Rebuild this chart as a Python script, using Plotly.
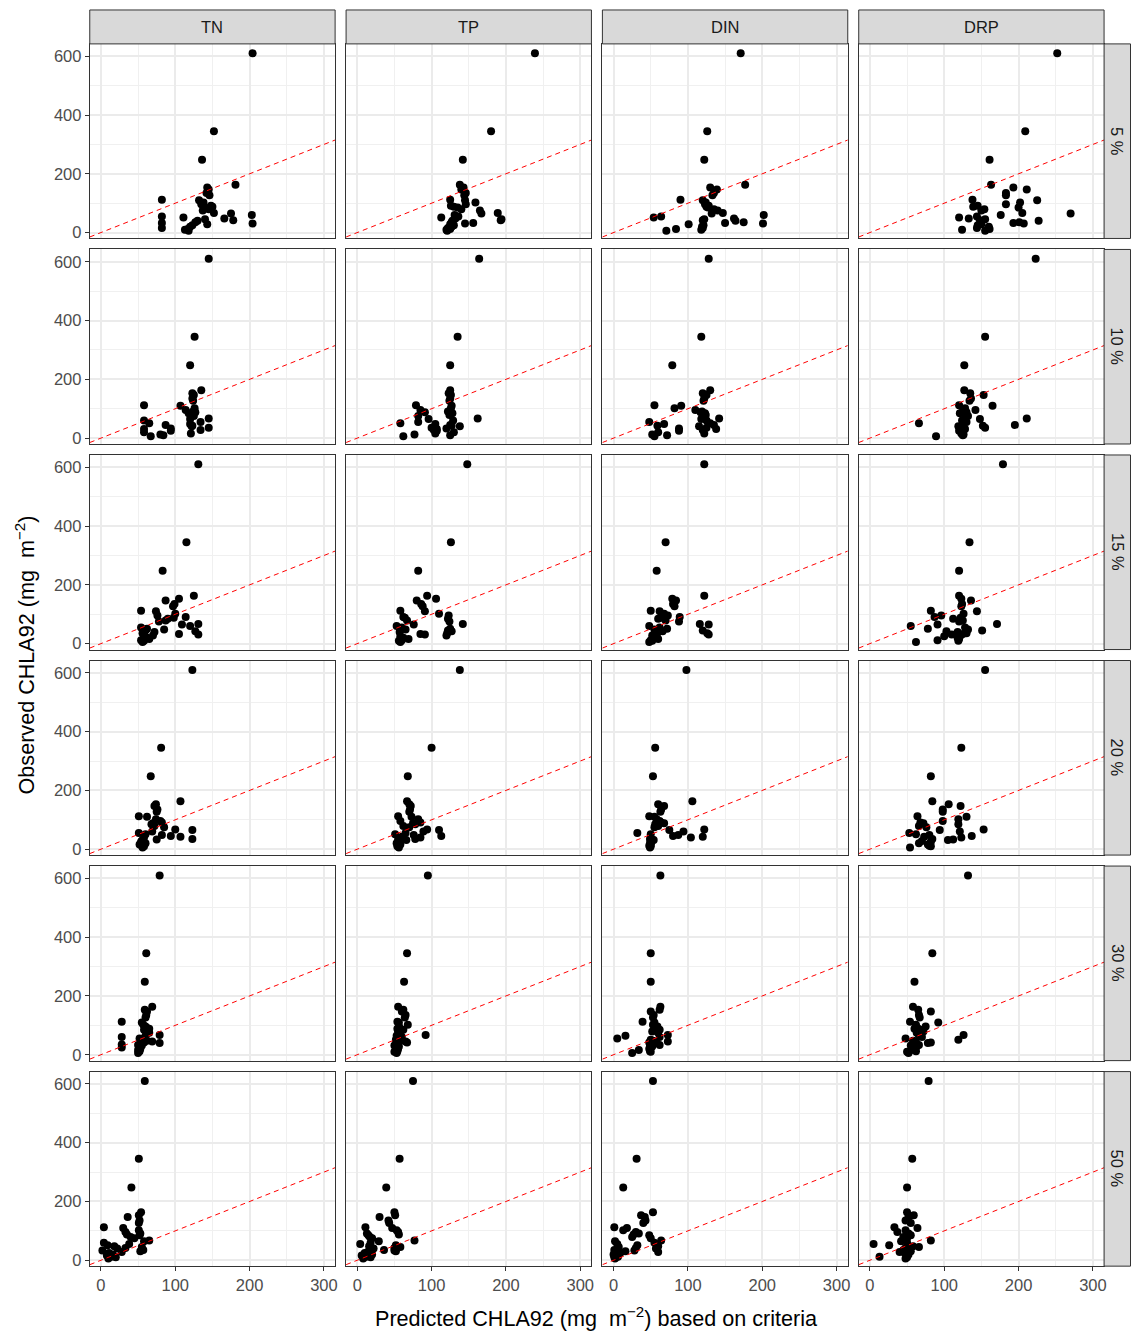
import plotly.graph_objects as go

W, H = 1134, 1334

nutrients = ["TN", "TP", "DIN", "DRP"]
percent_labels = ["5 %", "10 %", "15 %", "20 %", "30 %", "50 %"]
x_ticks = [0, 100, 200, 300]
x_minor = [50, 150, 250]
y_ticks = [0, 200, 400, 600]
y_minor = [100, 300, 500]

# Observed CHLA92 (same sites in every panel)
observed = [610, 345, 248, 163, 153, 147, 135, 127, 112, 110, 102, 96, 91, 88, 85, 79, 75, 67,
            65, 60, 55, 51, 48, 45, 42, 40, 35, 33, 31, 28, 25, 20, 16, 12, 10, 6]

# Predicted CHLA92 per criterion / percentile
tn_05 = [204, 152, 136, 181, 143, 145, 142, 146, 82, 132, 138, 135, 148, 150, 140, 145, 137, 152, 175, 203, 82, 111, 166, 140, 178, 130, 127, 82, 204, 143, 123, 120, 82, 117, 113, 118]
tp_05 = [239, 180, 142, 138, 143, 140, 146, 144, 125, 145, 159, 146, 126, 130, 135, 140, 165, 189, 167, 131, 136, 113, 132, 194, 193, 128, 127, 156, 145, 125, 130, 127, 122, 125, 120, 121]
din_05 = [171, 126, 122, 177, 130, 139, 135, 133, 90, 120, 124, 123, 128, 125, 127, 135, 140, 147, 132, 202, 64, 54, 162, 122, 120, 164, 175, 150, 201, 101, 121, 119, 120, 84, 118, 71]
drp_05 = [252, 209, 161, 163, 193, 211, 183, 183, 138, 225, 202, 183, 145, 139, 200, 154, 150, 205, 270, 176, 144, 120, 133, 155, 148, 227, 201, 193, 207, 150, 145, 160, 144, 161, 124, 155]

tn_10 = [145, 126, 120, 135, 123, 125, 123, 124, 58, 107, 126, 114, 124, 127, 118, 121, 125, 145, 120, 58, 134, 65, 120, 87, 123, 122, 145, 94, 58, 134, 94, 58, 121, 80, 84, 67]
tp_10 = [164, 135, 125, 125, 123, 126, 125, 124, 79, 127, 126, 85, 122, 91, 128, 124, 82, 162, 96, 129, 82, 58, 105, 125, 127, 138, 100, 120, 107, 103, 107, 130, 105, 77, 125, 62]
din_10 = [128, 118, 79, 130, 120, 125, 122, 121, 55, 91, 82, 110, 119, 117, 123, 124, 120, 142, 118, 125, 48, 130, 68, 135, 59, 115, 125, 88, 138, 120, 88, 60, 122, 52, 72, 55]
drp_10 = [223, 155, 127, 127, 135, 153, 136, 134, 120, 165, 128, 142, 125, 130, 121, 128, 132, 211, 148, 124, 130, 66, 126, 195, 152, 119, 155, 122, 128, 126, 120, 125, 123, 126, 125, 89]

tn_15 = [131, 115, 83, 125, 105, 87, 99, 97, 54, 74, 100, 76, 114, 98, 90, 87, 78, 131, 109, 120, 54, 62, 85, 60, 127, 72, 56, 105, 131, 70, 58, 62, 65, 54, 58, 56]
tp_15 = [148, 126, 82, 94, 106, 80, 86, 88, 58, 91, 110, 123, 62, 64, 122, 67, 124, 142, 76, 53, 60, 125, 65, 122, 127, 57, 121, 85, 91, 120, 58, 62, 69, 60, 56, 58]
din_15 = [122, 70, 58, 122, 79, 84, 80, 82, 50, 62, 68, 73, 89, 65, 60, 70, 88, 116, 128, 48, 62, 72, 55, 120, 66, 60, 126, 57, 128, 52, 58, 55, 60, 50, 52, 48]
drp_15 = [179, 134, 120, 120, 123, 136, 124, 123, 82, 144, 126, 96, 87, 122, 112, 125, 120, 171, 91, 55, 128, 78, 132, 151, 103, 118, 130, 125, 110, 122, 100, 118, 120, 91, 119, 62]

tn_20 = [123, 81, 67, 107, 74, 72, 76, 75, 51, 62, 74, 80, 82, 70, 68, 72, 85, 100, 123, 69, 51, 60, 82, 94, 107, 58, 123, 75, 56, 55, 54, 60, 52, 55, 58, 56]
tp_20 = [138, 100, 68, 67, 70, 72, 71, 70, 55, 73, 82, 58, 85, 75, 78, 62, 70, 94, 110, 89, 65, 51, 76, 113, 60, 85, 78, 55, 66, 56, 57, 53, 58, 55, 54, 56]
din_20 = [98, 56, 53, 106, 60, 68, 64, 63, 48, 55, 58, 62, 64, 68, 56, 60, 55, 122, 75, 94, 32, 50, 87, 80, 120, 104, 49, 52, 54, 50, 51, 49, 50, 48, 50, 49]
drp_20 = [155, 123, 82, 84, 106, 122, 98, 98, 64, 130, 119, 98, 68, 72, 119, 66, 76, 153, 94, 121, 53, 62, 80, 137, 73, 123, 84, 112, 105, 70, 82, 66, 78, 80, 82, 54]

tn_30 = [79, 61, 59, 69, 59, 62, 61, 60, 28, 55, 57, 60, 62, 65, 58, 63, 65, 79, 60, 28, 52, 55, 62, 69, 58, 79, 28, 50, 55, 52, 28, 53, 50, 52, 51, 50]
tp_30 = [95, 67, 63, 55, 62, 60, 65, 64, 54, 56, 68, 56, 57, 54, 62, 55, 58, 92, 53, 60, 56, 52, 58, 65, 67, 55, 52, 54, 50, 56, 53, 55, 52, 54, 50, 53]
din_30 = [63, 50, 50, 63, 62, 50, 54, 53, 39, 55, 53, 59, 58, 56, 62, 52, 60, 73, 16, 62, 5, 50, 53, 73, 48, 58, 50, 62, 49, 52, 50, 48, 34, 49, 50, 25]
drp_30 = [132, 84, 60, 58, 65, 82, 66, 67, 54, 92, 62, 75, 64, 60, 68, 72, 63, 126, 66, 70, 48, 119, 58, 62, 82, 78, 60, 66, 55, 63, 57, 60, 59, 62, 50, 52]

tn_50 = [59, 51, 41, 54, 51, 36, 52, 51, 4, 30, 51, 33, 53, 35, 52, 40, 45, 65, 58, 4, 38, 9, 18, 55, 33, 22, 57, 2, 53, 28, 11, 16, 8, 14, 20, 10]
tp_50 = [75, 57, 39, 50, 51, 30, 42, 43, 11, 47, 53, 55, 13, 56, 15, 17, 20, 77, 29, 18, 4, 52, 16, 58, 50, 22, 36, 50, 52, 14, 10, 20, 6, 12, 18, 8]
din_50 = [53, 31, 13, 53, 37, 42, 43, 40, 1, 18, 13, 30, 34, 27, 48, 25, 50, 64, 2, 55, 5, 32, 60, 7, 30, 57, 1, 28, 16, 60, 9, 0, 3, 6, 1, 2]
drp_50 = [79, 57, 50, 50, 59, 52, 48, 55, 33, 64, 48, 37, 52, 50, 55, 45, 50, 82, 42, 50, 5, 26, 58, 66, 48, 52, 45, 50, 55, 40, 47, 52, 50, 13, 50, 48]

grid_rows = [
    [tn_05, tp_05, din_05, drp_05],
    [tn_10, tp_10, din_10, drp_10],
    [tn_15, tp_15, din_15, drp_15],
    [tn_20, tp_20, din_20, drp_20],
    [tn_30, tp_30, din_30, drp_30],
    [tn_50, tp_50, din_50, drp_50],
]

X_RANGE = [-15, 315]
Y_RANGE = [-20, 642]
FONT = "Liberation Sans, Arial, sans-serif"
TICK_SIZE = 16.5
STRIP_SIZE = 16.5
TITLE_SIZE = 21.6

fig = go.Figure()
layout = dict(width=W, height=H, autosize=False, margin=dict(l=0, r=0, t=0, b=0),
              paper_bgcolor="white", plot_bgcolor="white", showlegend=False,
              font=dict(family=FONT))
shapes = []
annotations = []

for r, pct in enumerate(percent_labels):
    for c, nut in enumerate(nutrients):
        idx = r * 4 + c + 1
        sfx = "" if idx == 1 else str(idx)
        left = 90 + 257 * c
        right = 336 + 257 * c
        top = 44 + 206 * r
        bottom = 239 + 206 * r
        bottom_row = (r == len(percent_labels) - 1)
        left_col = (c == 0)
        layout["xaxis" + sfx] = dict(
            domain=[left / W, right / W], anchor="y" + sfx, range=X_RANGE,
            tickmode="array", tickvals=x_ticks, showticklabels=bottom_row,
            ticks="outside" if bottom_row else "", ticklen=4, tickwidth=1, tickcolor="#333333",
            tickfont=dict(size=TICK_SIZE, color="#4D4D4D", family=FONT),
            showgrid=True, gridcolor="#EBEBEB", gridwidth=1.5,
            minor=dict(tickmode="array", tickvals=x_minor, showgrid=True, gridcolor="#F0F0F0", gridwidth=0.9, ticks=""),
            showline=True, linecolor="#333333", linewidth=1, mirror=True, zeroline=False, fixedrange=True)
        layout["yaxis" + sfx] = dict(
            domain=[1 - bottom / H, 1 - top / H], anchor="x" + sfx, range=Y_RANGE,
            tickmode="array", tickvals=y_ticks, showticklabels=left_col,
            ticks="outside" if left_col else "", ticklen=4, tickwidth=1, tickcolor="#333333",
            tickfont=dict(size=TICK_SIZE, color="#4D4D4D", family=FONT),
            showgrid=True, gridcolor="#EBEBEB", gridwidth=1.5,
            minor=dict(tickmode="array", tickvals=y_minor, showgrid=True, gridcolor="#F0F0F0", gridwidth=0.9, ticks=""),
            showline=True, linecolor="#333333", linewidth=1, mirror=True, zeroline=False, fixedrange=True)

        fig.add_trace(go.Scatter(x=grid_rows[r][c], y=observed, mode="markers",
                                 marker=dict(size=8, color="black"),
                                 xaxis="x" + sfx, yaxis="y" + sfx, hoverinfo="x+y"))
        fig.add_trace(go.Scatter(x=X_RANGE, y=X_RANGE, mode="lines",
                                 line=dict(color="#FF0000", width=1, dash="5px,4px"),
                                 xaxis="x" + sfx, yaxis="y" + sfx, hoverinfo="skip"))

        if r == 0:
            shapes.append(dict(type="rect", xref="paper", yref="paper",
                               x0=left / W, x1=right / W, y0=1 - top / H, y1=1 - 10 / H,
                               fillcolor="#D9D9D9", line=dict(color="#333333", width=1), layer="above"))
            annotations.append(dict(text=nut, xref="paper", yref="paper",
                                    x=(left + right) / 2 / W, y=1 - 27 / H, showarrow=False,
                                    font=dict(size=STRIP_SIZE, color="#1A1A1A", family=FONT),
                                    xanchor="center", yanchor="middle"))
        if c == len(nutrients) - 1:
            shapes.append(dict(type="rect", xref="paper", yref="paper",
                               x0=right / W, x1=1133.5 / W, y0=1 - bottom / H, y1=1 - top / H,
                               fillcolor="#D9D9D9", line=dict(color="#333333", width=1), layer="above"))
            annotations.append(dict(text=pct, xref="paper", yref="paper",
                                    x=(right + 1133.5) / 2 / W, y=1 - (top + bottom) / 2 / H,
                                    showarrow=False, textangle=90,
                                    font=dict(size=STRIP_SIZE, color="#1A1A1A", family=FONT),
                                    xanchor="center", yanchor="middle"))

annotations.append(dict(text="Observed CHLA92 (mg&nbsp; m<sup>−2</sup>)", xref="paper", yref="paper",
                        x=25 / W, y=1 - 656 / H, showarrow=False, textangle=-90,
                        font=dict(size=TITLE_SIZE, color="black", family=FONT),
                        xanchor="center", yanchor="middle"))
annotations.append(dict(text="Predicted CHLA92 (mg&nbsp; m<sup>−2</sup>) based on criteria", xref="paper", yref="paper",
                        x=598 / W, y=1 - 1320 / H, showarrow=False,
                        font=dict(size=TITLE_SIZE, color="black", family=FONT),
                        xanchor="center", yanchor="middle"))

layout["shapes"] = shapes
layout["annotations"] = annotations
fig.update_layout(**layout)
fig.write_html("out.html", config={"displayModeBar": False},
               post_script="document.body.style.margin='0';document.body.style.overflow='hidden';")
